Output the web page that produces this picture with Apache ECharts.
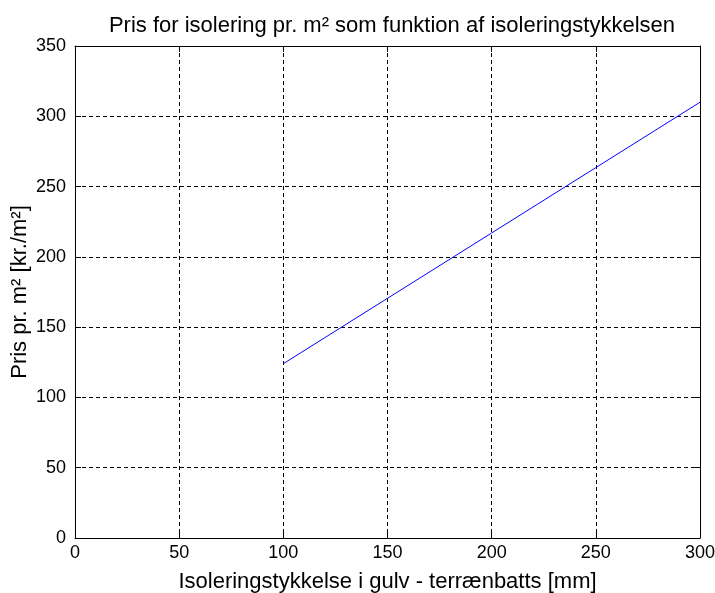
<!DOCTYPE html>
<html><head><meta charset="utf-8">
<script src="https://cdn.jsdelivr.net/npm/echarts@6/dist/echarts.min.js"></script>
<style>html,body{margin:0;padding:0;background:#fff}#c{width:715px;height:593px}</style>
</head><body><div id="c"></div>
<script>
const thickness = [100, 150, 200, 250, 300];
const price = [124, 170.5, 217, 263.5, 310];
const titleText = 'Pris for isolering pr. m² som funktion af isoleringstykkelsen';
const xName = 'Isoleringstykkelse i gulv - terrænbatts [mm]';
const yName = 'Pris pr. m² [kr./m²]';

const FONT = 'Liberation Sans';
const chart = echarts.init(document.getElementById('c'));
const dash = {color:'#000', width:1, type:[4,3]};
const axisCommon = {
  axisLine:{show:true, onZero:false, lineStyle:{color:'#000', width:1}},
  axisTick:{show:true, inside:true, length:6, lineStyle:{color:'#000'}},
};
chart.setOption({
  animation:false,
  title:{text:titleText, left:387, textAlign:'center', top:10, textStyle:{fontFamily:FONT, fontSize:22, fontWeight:'normal', color:'#000'}},
  grid:{left:75, right:15, top:46, bottom:55, containLabel:false, outerBoundsMode:'none'},
  xAxis:[{
    type:'value', min:0, max:300, interval:50, position:'bottom',
    name:xName, nameLocation:'middle', nameGap:33, nameMoveOverlap:false,
    nameTextStyle:{fontFamily:FONT, fontSize:22, color:'#000'},
    axisLabel:{fontFamily:FONT, fontSize:18, color:'#000', margin:6},
    splitLine:{show:true, lineStyle:dash}, ...axisCommon
  },{
    type:'value', min:0, max:300, interval:50, position:'top',
    axisLabel:{show:false}, splitLine:{show:false}, ...axisCommon
  }],
  yAxis:[{
    type:'value', min:0, max:350, interval:50, position:'left',
    name:yName, nameLocation:'middle', nameGap:44, nameMoveOverlap:false,
    nameTextStyle:{fontFamily:FONT, fontSize:22, color:'#000'},
    axisLabel:{fontFamily:FONT, fontSize:18, color:'#000', margin:9},
    splitLine:{show:true, lineStyle:dash}, ...axisCommon
  },{
    type:'value', min:0, max:350, interval:50, position:'right',
    axisLabel:{show:false}, splitLine:{show:false}, ...axisCommon
  }],
  series:[{
    type:'line', data: thickness.map((t,i)=>[t, price[i]]),
    showSymbol:false, lineStyle:{color:'#0000ff', width:1}
  }]
});
</script></body></html>
